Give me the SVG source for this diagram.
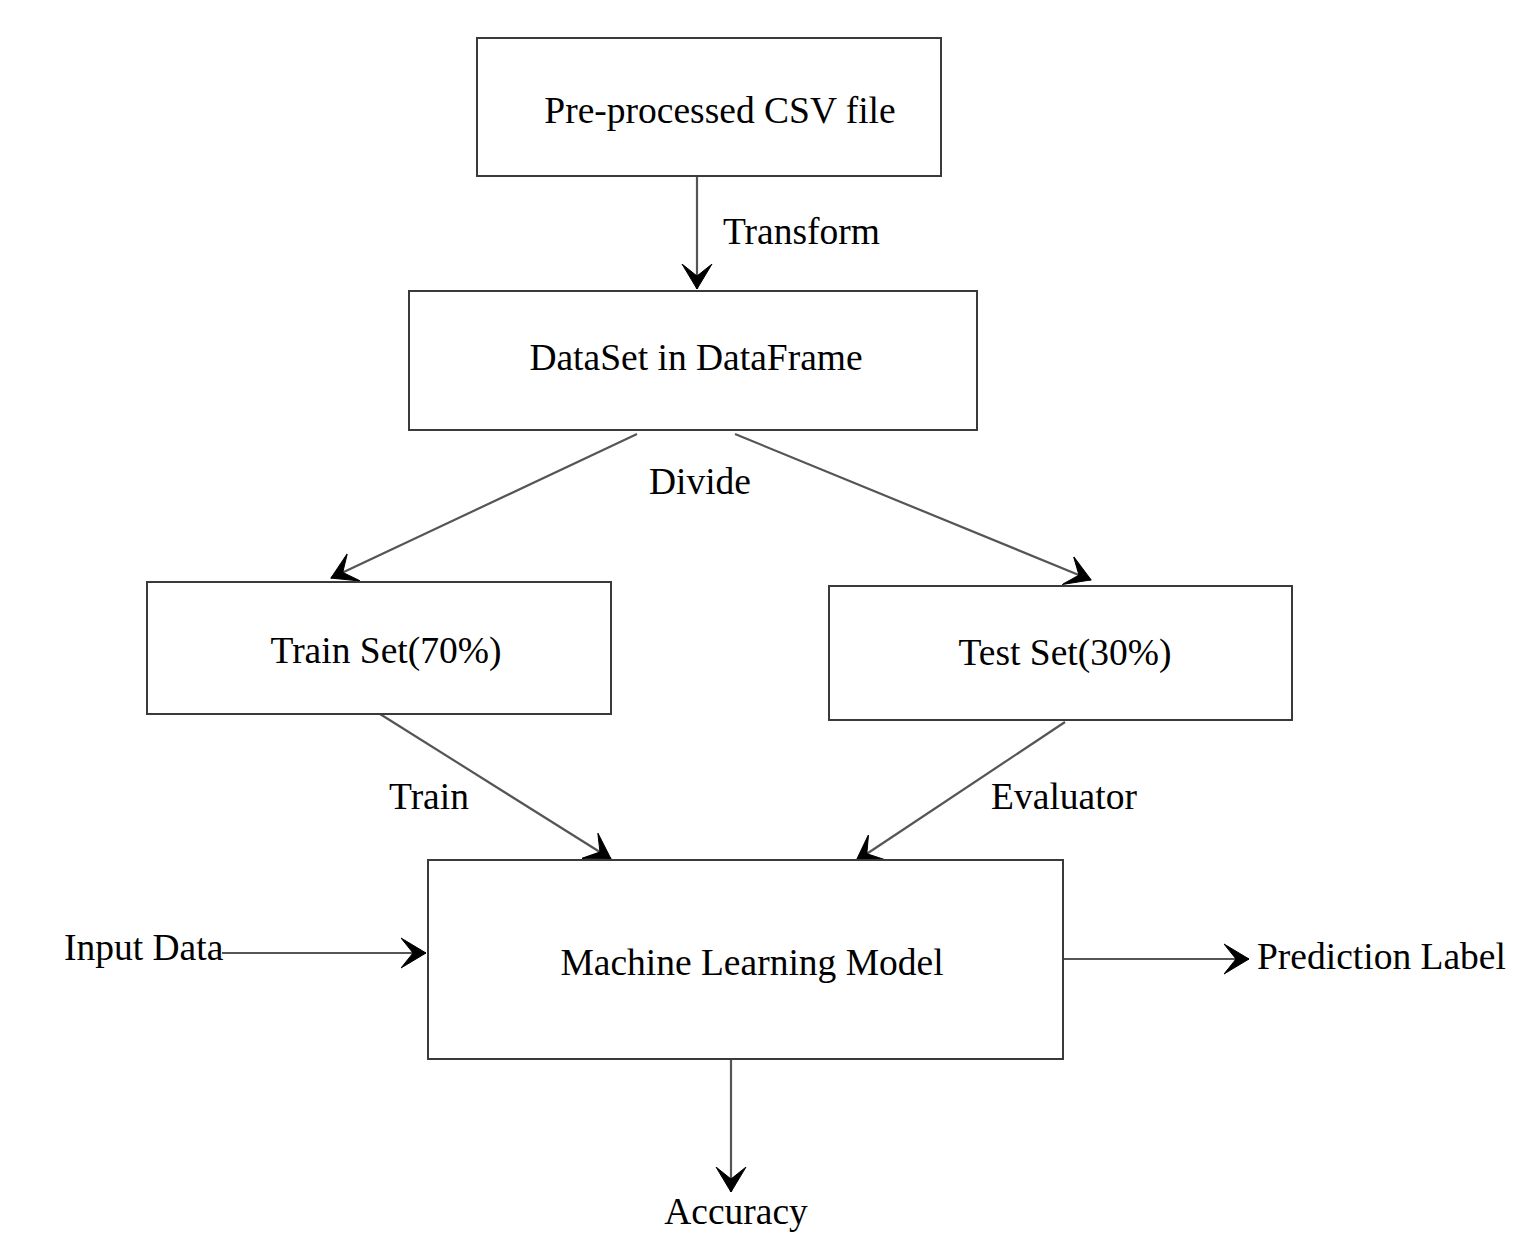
<svg xmlns="http://www.w3.org/2000/svg" width="1524" height="1258" viewBox="0 0 1524 1258">
  <defs>
    <style>
      .box { fill: #ffffff; stroke: #3a3a3a; stroke-width: 2; }
      .lbl { font-family: "Liberation Serif", "Times New Roman", serif; font-size: 37.5px; fill: #000000; }
      .mid { text-anchor: middle; }
      .edge { fill: none; stroke: #555555; stroke-width: 2.2; }
    </style>
    <marker id="arrow" markerUnits="userSpaceOnUse" viewBox="0 0 26 32" refX="25" refY="16" markerWidth="26" markerHeight="32" orient="auto">
      <path d="M0,1 L25,16 L0,31 L12,16 Z" fill="#000000" stroke="#000000" stroke-width="1" stroke-linejoin="miter"/>
    </marker>
  </defs>
  <rect width="1524" height="1258" fill="#ffffff"/>

  <g id="connectors">
    <line class="edge" x1="697" y1="176" x2="697" y2="289" marker-end="url(#arrow)"/>
    <line class="edge" x1="637" y1="434" x2="331" y2="578" marker-end="url(#arrow)"/>
    <line class="edge" x1="735" y1="434" x2="1091" y2="580" marker-end="url(#arrow)"/>
    <line class="edge" x1="380" y1="714" x2="611" y2="859" marker-end="url(#arrow)"/>
    <line class="edge" x1="1065" y1="722" x2="856" y2="861" marker-end="url(#arrow)"/>
    <line class="edge" x1="222" y1="953" x2="426" y2="953" marker-end="url(#arrow)"/>
    <line class="edge" x1="1064" y1="959" x2="1249" y2="959" marker-end="url(#arrow)"/>
    <line class="edge" x1="731" y1="1060" x2="731" y2="1192" marker-end="url(#arrow)"/>
    <text class="lbl" x="723" y="244">Transform</text>
    <text class="lbl mid" x="700" y="494">Divide</text>
    <text class="lbl mid" x="429" y="809">Train</text>
    <text class="lbl mid" x="1064" y="809">Evaluator</text>
    <text class="lbl" x="64" y="960">Input Data</text>
    <text class="lbl" x="1257" y="969">Prediction Label</text>
    <text class="lbl mid" x="736" y="1224">Accuracy</text>
  </g>

  <g id="node-csv">
    <rect class="box" x="477" y="38" width="464" height="138"/>
    <text class="lbl mid" x="720" y="123">Pre-processed CSV file</text>
  </g>
  <g id="node-dataset">
    <rect class="box" x="409" y="291" width="568" height="139"/>
    <text class="lbl mid" x="696" y="370">DataSet in DataFrame</text>
  </g>
  <g id="node-train">
    <rect class="box" x="147" y="582" width="464" height="132"/>
    <text class="lbl mid" x="386" y="663">Train Set(70%)</text>
  </g>
  <g id="node-test">
    <rect class="box" x="829" y="586" width="463" height="134"/>
    <text class="lbl mid" x="1065" y="665">Test Set(30%)</text>
  </g>
  <g id="node-model">
    <rect class="box" x="428" y="860" width="635" height="199"/>
    <text class="lbl mid" x="752" y="975">Machine Learning Model</text>
  </g>
</svg>
